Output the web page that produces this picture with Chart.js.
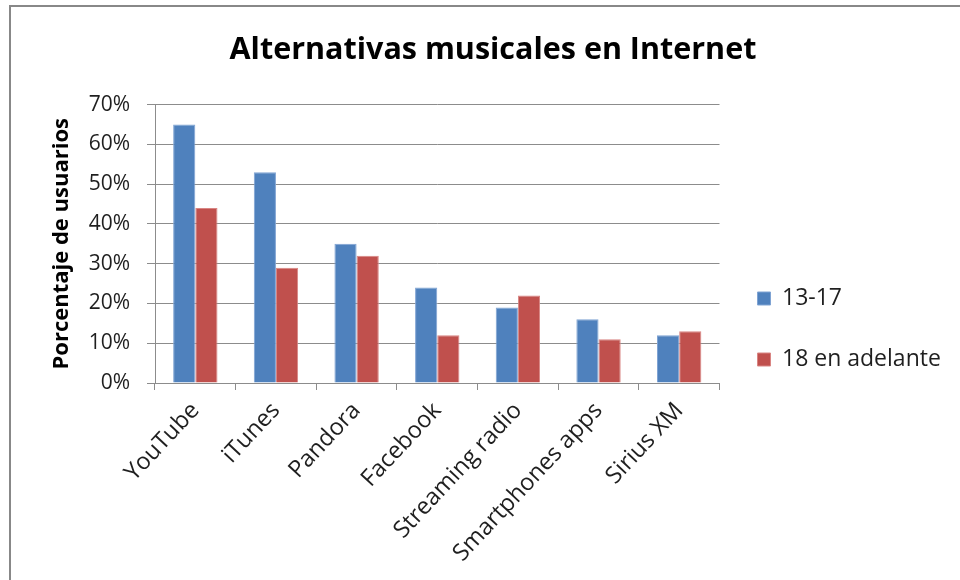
<!DOCTYPE html>
<html>
<head>
<meta charset="utf-8">
<script src="https://cdn.jsdelivr.net/npm/chart.js@4/dist/chart.umd.min.js"></script>
<style>
  html, body { margin:0; padding:0; background:#fff; overflow:hidden; }
  #wrap { position:absolute; left:0; top:0; width:960px; height:580px; }
  #frame { position:absolute; left:9px; top:5px; width:1000px; height:700px;
           border-top:2px solid #888; border-left:2px solid #888; box-sizing:border-box; pointer-events:none; }
  canvas { position:absolute; left:0; top:0; }
</style>
</head>
<body>
<div id="wrap">
  <canvas id="c" width="960" height="580"></canvas>
  <div id="frame"></div>
</div>
<script>
const categories = ["YouTube", "iTunes", "Pandora", "Facebook", "Streaming radio", "Smartphones apps", "Sirius XM"];
const seriesNames = ["13-17", "18 en adelante"];
const teens = [0.65, 0.53, 0.35, 0.24, 0.19, 0.16, 0.12];
const adults = [0.44, 0.29, 0.32, 0.12, 0.22, 0.11, 0.13];
const yTicks = [0, 0.1, 0.2, 0.3, 0.4, 0.5, 0.6, 0.7];

const FONT = "'Open Sans', sans-serif";
const gridColor = "#8c8c8c";
const textColor = "#1f1f1f";

new Chart(document.getElementById("c"), {
  type: "bar",
  data: {
    labels: categories,
    datasets: [
      { label: seriesNames[0], data: teens, backgroundColor: "#4F81BD", borderColor: "#7fa3d3", borderWidth: 1,
        categoryPercentage: 0.55, barPercentage: 1.0 },
      { label: seriesNames[1], data: adults, backgroundColor: "#C0504D", borderColor: "#d98583", borderWidth: 1,
        categoryPercentage: 0.55, barPercentage: 1.0 }
    ]
  },
  options: {
    responsive: false,
    animation: false,
    devicePixelRatio: 1,
    layout: { padding: { left: 40, right: 14, top: 22, bottom: 0 } },
    plugins: {
      title: {
        display: true,
        text: "Alternativas musicales en Internet",
        color: "#000",
        font: { family: FONT, size: 30.5, weight: "bold" },
        padding: { top: 10, bottom: 36 }
      },
      legend: {
        position: "right",
        align: "center",
        title: { display: true, text: " ", font: { size: 10 }, padding: { top: 0, bottom: 44 } },
        labels: {
          boxWidth: 13, boxHeight: 13,
          color: textColor,
          padding: 38,
          font: { family: FONT, size: 23 }
        }
      },
      tooltip: { enabled: false }
    },
    scales: {
      x: {
        grid: { display: true, drawOnChartArea: false, drawTicks: true, tickLength: 7, color: gridColor, offset: true },
        border: { color: gridColor, width: 1 },
        afterFit: (s) => { s.height = 197; },
        ticks: {
          maxRotation: 47, minRotation: 47,
          color: textColor,
          font: { family: FONT, size: 23.5 },
          padding: 7
        }
      },
      y: {
        min: 0, max: 0.7,
        afterBuildTicks: (axis) => { axis.ticks = yTicks.map(v => ({ value: v })); },
        afterFit: (s) => { s.width = 115; },
        grid: { color: gridColor, drawTicks: true, tickLength: 8, lineWidth: 1 },
        border: { color: gridColor, width: 1 },
        ticks: {
          color: textColor,
          font: { family: FONT, size: 21 },
          padding: 17,
          callback: (v) => Math.round(v * 100) + "%"
        },
        title: {
          display: true,
          text: "Porcentaje de usuarios",
          color: "#000",
          font: { family: FONT, size: 22, weight: "bold" },
          padding: { top: 9, bottom: 0 }
        }
      }
    }
  }
});
</script>
</body>
</html>
